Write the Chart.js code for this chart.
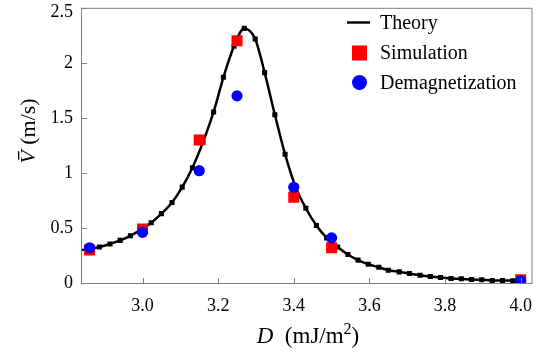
<!DOCTYPE html>
<html>
<head>
<meta charset="utf-8">
<script src="https://cdn.jsdelivr.net/npm/chart.js@4"></script>
<style>
  html, body { margin: 0; padding: 0; background: #fff; }
</style>
</head>
<body>
<canvas id="velocity" width="548" height="356"></canvas>
<script>
// DMI strength D (mJ/m^2) against mean velocity (m/s)
const theoryD = [2.84, 2.859, 2.886, 2.914, 2.941, 2.968, 2.996, 3.023, 3.050, 3.078, 3.105,
  3.132, 3.160, 3.188, 3.214, 3.242, 3.269, 3.298, 3.323, 3.350, 3.377, 3.404, 3.432,
  3.460, 3.487, 3.516, 3.543, 3.570, 3.597, 3.625, 3.650, 3.679, 3.706, 3.734, 3.761,
  3.788, 3.816, 3.843, 3.870, 3.897, 3.925, 3.952, 3.979, 4.006];
const theoryV = [0.30, 0.31, 0.327, 0.354, 0.387, 0.429, 0.485, 0.547, 0.630, 0.732, 0.871,
  1.047, 1.28, 1.554, 1.869, 2.15, 2.313, 2.217, 1.911, 1.529, 1.170, 0.88, 0.679,
  0.522, 0.41, 0.327, 0.259, 0.208, 0.170, 0.143, 0.116, 0.101, 0.086, 0.071, 0.059,
  0.050, 0.041, 0.038, 0.032, 0.029, 0.023, 0.023, 0.021, 0.019];
const simD = [2.86, 3.0, 3.15, 3.25, 3.4, 3.5, 4.0];
const simV = [0.30, 0.49, 1.30, 2.20, 0.78, 0.32, 0.03];
const demagD = [2.86, 3.0, 3.15, 3.25, 3.4, 3.5, 4.0];
const demagV = [0.32, 0.46, 1.02, 1.70, 0.87, 0.41, 0.02];
const xTicks = [3.0, 3.2, 3.4, 3.6, 3.8, 4.0];
const yTicks = [0, 0.5, 1, 1.5, 2, 2.5];
const seriesNames = ['Theory', 'Simulation', 'Demagnetization'];

const SERIF = '"Liberation Serif", "DejaVu Serif", serif';
const AXIS_GRAY = '#808080';
const Y_MAX = yTicks[yTicks.length - 1];

function toPoints(xs, ys) {
    return xs.map((x, i) => ({ x: x, y: ys[i] }));
}

// box around the plot, inward ticks, axis titles and the legend
const decorations = {
    id: 'decorations',
    afterDraw(chart) {
        const { ctx, chartArea: a, scales: { x, y } } = chart;
        ctx.save();

        ctx.strokeStyle = AXIS_GRAY;
        ctx.lineWidth = 1;
        ctx.strokeRect(a.left - 0.5, a.top + 0.5, a.right - a.left + 0.5, a.bottom - a.top);

        ctx.beginPath();
        x.ticks.forEach(t => {
            const px = Math.round(x.getPixelForValue(t.value)) + 0.5;
            ctx.moveTo(px, a.bottom);
            ctx.lineTo(px, a.bottom - 5);
        });
        y.ticks.forEach(t => {
            const py = Math.round(y.getPixelForValue(t.value)) + 0.5;
            ctx.moveTo(a.left, py);
            ctx.lineTo(a.left + 5, py);
        });
        ctx.stroke();

        // x title: D (mJ/m^2)
        ctx.fillStyle = '#000';
        ctx.textBaseline = 'alphabetic';
        ctx.textAlign = 'left';
        const cx = (a.left + a.right) / 2 + 1;
        const base = 343;
        ctx.font = 'italic 23px ' + SERIF;
        const wD = ctx.measureText('D').width;
        ctx.font = '23px ' + SERIF;
        const wMid = ctx.measureText('  (mJ/m').width;
        const wEnd = ctx.measureText(')').width;
        ctx.font = '16px ' + SERIF;
        const wSup = ctx.measureText('2').width;
        let tx = cx - (wD + wMid + wSup + wEnd) / 2;
        ctx.font = 'italic 23px ' + SERIF;
        ctx.fillText('D', tx, base);
        tx += wD;
        ctx.font = '23px ' + SERIF;
        ctx.fillText('  (mJ/m', tx, base);
        tx += wMid;
        ctx.font = '16px ' + SERIF;
        ctx.fillText('2', tx, base - 9);
        tx += wSup;
        ctx.font = '23px ' + SERIF;
        ctx.fillText(')', tx, base);

        // y title: V-bar (m/s), rotated
        ctx.save();
        ctx.translate(35, 131);
        ctx.rotate(-Math.PI / 2);
        ctx.font = 'italic 22px ' + SERIF;
        const wV = ctx.measureText('V').width;
        ctx.font = '22px ' + SERIF;
        const wRest = ctx.measureText(' (m/s)').width;
        let ty = -(wV + wRest) / 2;
        ctx.font = 'italic 22px ' + SERIF;
        ctx.fillText('V', ty, 0);
        ctx.fillRect(ty + 4, -17, wV - 5, 1.3);
        ty += wV;
        ctx.font = '22px ' + SERIF;
        ctx.fillText(' (m/s)', ty, 0);
        ctx.restore();

        // legend
        const rows = [22.5, 53, 82.5];
        ctx.font = '20px ' + SERIF;
        ctx.textBaseline = 'middle';
        chart.data.datasets.forEach((ds, i) => {
            const ry = rows[i];
            ctx.fillStyle = ds.backgroundColor;
            if (ds.showLine) {
                ctx.fillRect(347, ry - 1.2, 23, 2.4);
            } else if (ds.pointStyle === 'rect') {
                ctx.fillRect(352, ry - 7.5, 15, 15);
            } else {
                ctx.beginPath();
                ctx.arc(359.5, ry, 7.5, 0, Math.PI * 2);
                ctx.fill();
            }
            ctx.fillStyle = '#000';
            ctx.fillText(ds.label, 380, ry + 1);
        });

        ctx.restore();
    }
};

new Chart(document.getElementById('velocity'), {
    type: 'scatter',
    data: {
        datasets: [
            {
                label: seriesNames[0],
                data: toPoints(theoryD, theoryV),
                showLine: true,
                borderColor: '#000',
                backgroundColor: '#000',
                borderWidth: 2.5,
                cubicInterpolationMode: 'monotone',
                pointStyle: 'rect',
                pointRadius: theoryD.map((d, i) => i === 0 ? 0 : 3.6),
                pointBorderWidth: 0,
                order: 3
            },
            {
                label: seriesNames[1],
                data: toPoints(simD, simV),
                backgroundColor: '#ff0000',
                borderColor: '#ff0000',
                pointStyle: 'rect',
                pointRadius: 7.8,
                pointBorderWidth: 0,
                order: 2
            },
            {
                label: seriesNames[2],
                data: toPoints(demagD, demagV),
                backgroundColor: '#0000ff',
                borderColor: '#0000ff',
                pointStyle: 'circle',
                pointRadius: 5.6,
                pointBorderWidth: 0,
                order: 1
            }
        ]
    },
    options: {
        responsive: false,
        animation: false,
        layout: { padding: { top: 3, right: 16, left: 0, bottom: 0 } },
        plugins: {
            legend: { display: false },
            tooltip: { enabled: false }
        },
        scales: {
            x: {
                type: 'linear',
                min: 2.84,
                max: 4.03,
                grid: { display: false, drawTicks: false },
                border: { display: false },
                ticks: {
                    padding: 12,
                    color: '#000',
                    font: { family: SERIF, size: 18 },
                    callback: v => v.toFixed(1)
                },
                afterBuildTicks: s => { s.ticks = xTicks.map(v => ({ value: v })); },
                afterFit: s => { s.height = 73; }
            },
            y: {
                min: 0,
                max: Y_MAX,
                grid: { display: false, drawTicks: false },
                border: { display: false },
                ticks: {
                    padding: 9,
                    color: '#000',
                    // the top label sits a little below its tick so it stays on the canvas
                    font: ctx => ({
                        family: SERIF,
                        size: 18,
                        lineHeight: ctx.tick && ctx.tick.value === Y_MAX ? 0.55 : 1.2
                    }),
                    callback: v => v === Y_MAX ? ['', String(v)] : String(v)
                },
                afterBuildTicks: s => { s.ticks = yTicks.map(v => ({ value: v })); },
                afterFit: s => { s.width = 82; s.paddingTop = 0; s.paddingBottom = 0; }
            }
        }
    },
    plugins: [decorations]
});
</script>
</body>
</html>
